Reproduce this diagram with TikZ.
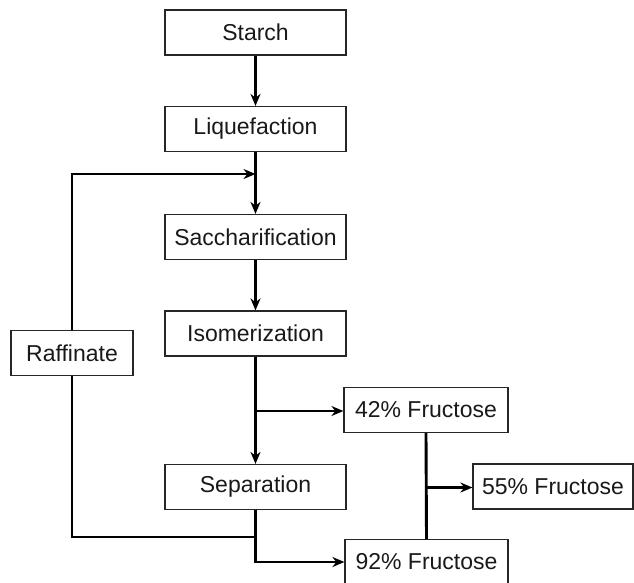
\documentclass[tikz,border=0pt]{standalone}
\usepackage{fontspec}
\setmainfont{Liberation Sans}
\usetikzlibrary{arrows.meta}
\begin{document}
\begin{tikzpicture}[x=1pt,y=-1pt,
  procbox/.style={draw=black!85,line width=1.2pt,inner sep=0pt,minimum height=45pt,
    font=\fontsize{23}{26}\selectfont,text=black!90},
  mainbox/.style={procbox,minimum width=181pt},
  flow/.style={line width=2.9pt,-{Stealth[length=12pt,width=10pt]}},
  plain/.style={line width=2.9pt}]
\useasboundingbox (0,0) rectangle (634,582);
\node[mainbox] (starch) at (255.5,32.5) {Starch};
\node[mainbox] (liq) at (255.5,129) {Liquefaction};
\node[mainbox] (sac) at (255.5,237) {Saccharification};
\node[mainbox] (iso) at (255.5,333.5) {Isomerization};
\node[mainbox] (sep) at (255.5,487) {Separation};
\node[procbox,minimum width=122pt] (raf) at (72,353) {Raffinate};
\node[procbox,minimum width=164pt] (f42) at (426,410) {42\% Fructose};
\node[procbox,minimum width=160pt] (f55) at (553,486.5) {55\% Fructose};
\node[procbox,minimum width=163pt] (f92) at (426.5,562) {92\% Fructose};
\coordinate (j1) at (255.5,174);
\coordinate (j2) at (255.5,411);
\coordinate (j3) at (255.5,537);
\coordinate (j4) at (426,487.5);
\draw[flow] (starch) -- (liq);
\draw[plain] (liq.south) -- (j1);
\draw[flow] (j1) -- (sac.north);
\draw[flow] (sac) -- (iso);
\draw[plain] (iso.south) -- (j2);
\draw[flow] (j2) -- (sep.north);
\draw[flow] (j2) -- (f42.west |- j2);
\draw[flow] (sep.south) |- (f92.west);
\draw[plain] (j3) -| (raf.south);
\draw[flow] (raf.north) |- (j1);
\draw[plain] (f42.south) -- (f92.north);
\draw[flow] (j4) -- (f55.west |- j4);
\end{tikzpicture}
\end{document}
